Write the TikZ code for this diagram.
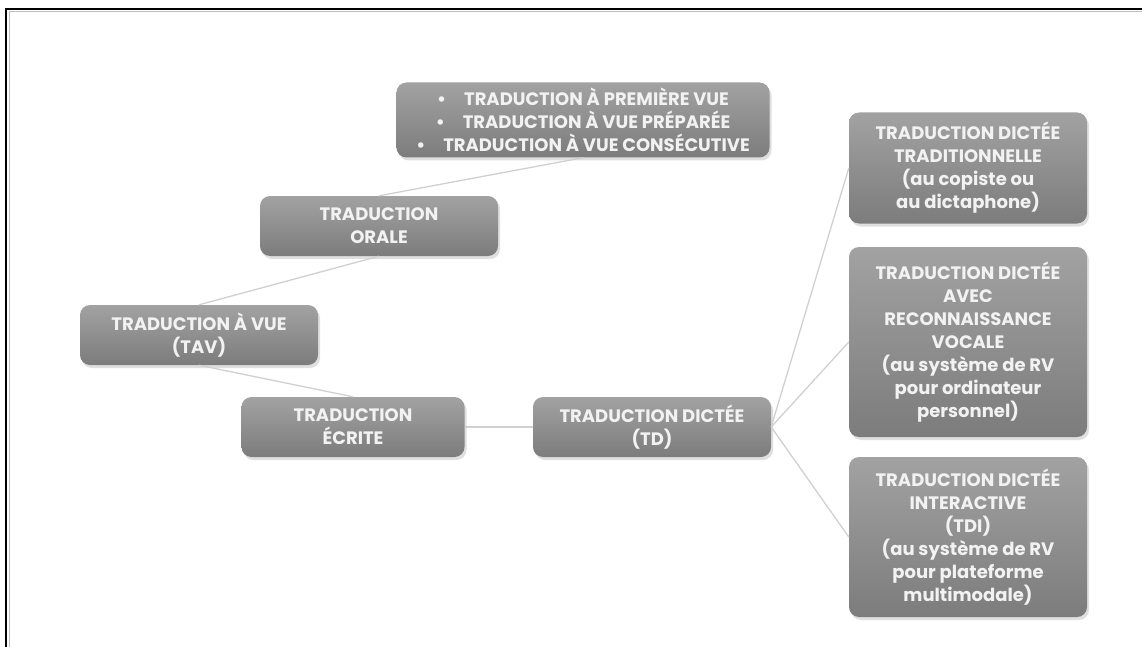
\documentclass[tikz,border=0pt]{standalone}
\usepackage{fontspec}
\setmainfont{Poppins}
\usetikzlibrary{positioning, shadows}

\definecolor{boxtop}{RGB}{162,162,162}
\definecolor{boxbot}{RGB}{124,124,124}
\definecolor{boxtext}{RGB}{242,242,242}
\definecolor{linkgray}{RGB}{208,208,208}

\tikzset{
  mapbox/.style={rounded corners=10pt, top color=boxtop, bottom color=boxbot, text=boxtext, align=center, inner sep=1pt,
    drop shadow={opacity=0.25, shadow xshift=2pt, shadow yshift=-3pt}},
  link/.style={draw=linkgray, line width=1.3pt},
}

\begin{document}
\begin{tikzpicture}[x=1pt, y=-1pt, font=\fontsize{18}{23}\selectfont\bfseries]

\useasboundingbox (0,0) rectangle (1142,647);
\draw[line width=2.2pt] (6,647) -- (6,9) -- (1142,9);
\draw[gray!50, line width=1pt] (9,647) -- (9,12) -- (1142,12);

\begin{scope}[minimum width=238pt, minimum height=60pt]

\node[mapbox] (tav) at (199,335) {TRADUCTION À VUE\\(TAV)};
\node[mapbox] (orale) at (379,226) {TRADUCTION\\ORALE};
\node[mapbox, minimum width=223pt] (ecrite) at (353,427) {TRADUCTION\\ÉCRITE};
\node[mapbox] (dictee) at (652,427) {TRADUCTION DICTÉE\\(TD)};
\node[mapbox, minimum width=373pt, minimum height=75pt] (vues) at (583,120)
  {\textbullet\quad TRADUCTION À PREMIÈRE VUE\\\textbullet\quad TRADUCTION À VUE PRÉPARÉE\\\textbullet\quad TRADUCTION À VUE CONSÉCUTIVE};

\end{scope}

\begin{scope}[minimum width=238pt, rounded corners=18pt]

\node[mapbox, minimum height=111pt] (dictee-trad) at (968,168)
  {TRADUCTION DICTÉE\\TRADITIONNELLE\\(au copiste ou\\au dictaphone)};
\node[mapbox, minimum height=190pt] (dictee-rv) at (968,342)
  {TRADUCTION DICTÉE\\AVEC\\RECONNAISSANCE\\VOCALE\\(au système de RV\\pour ordinateur\\personnel)};
\node[mapbox, minimum height=160pt] (dictee-tdi) at (968,537)
  {TRADUCTION DICTÉE\\INTERACTIVE\\(TDI)\\(au système de RV\\pour plateforme\\multimodale)};

\end{scope}

\draw[link] (vues.south) -- (orale.north);
\draw[link] (orale.south) -- (tav.north);
\draw[link] (tav.south) -- (ecrite.north);
\draw[link] (ecrite.east) -- (dictee.west);
\draw[link] (dictee.east) -- (dictee-trad.west);
\draw[link] (dictee.east) -- (dictee-rv.west);
\draw[link] (dictee.east) -- (dictee-tdi.west);

\end{tikzpicture}
\end{document}
